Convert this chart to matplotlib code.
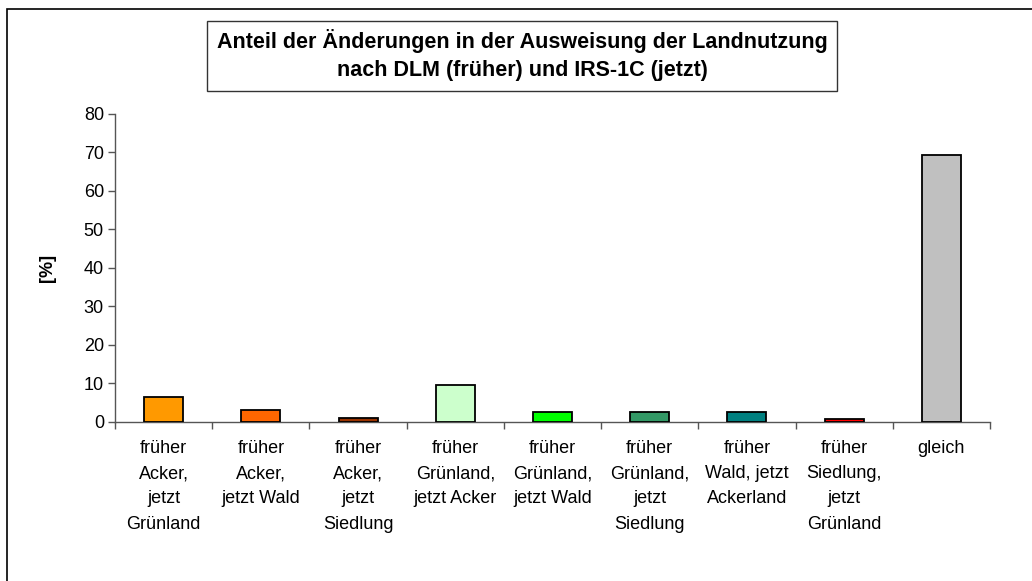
import numpy as np
import matplotlib
matplotlib.use("Agg")
import matplotlib.pyplot as plt
from matplotlib.patches import Rectangle

plt.rcParams['font.family'] = ['Liberation Sans', 'DejaVu Sans']

# Daten
categories = ["früher\nAcker,\njetzt\nGrünland", "früher\nAcker,\njetzt Wald",
              "früher\nAcker,\njetzt\nSiedlung", "früher\nGrünland,\njetzt Acker",
              "früher\nGrünland,\njetzt Wald", "früher\nGrünland,\njetzt\nSiedlung",
              "früher\nWald, jetzt\nAckerland", "früher\nSiedlung,\njetzt\nGrünland",
              "gleich"]
values = [6.5, 3.0, 0.9, 9.5, 2.6, 2.6, 2.6, 0.8, 69.3]
colors = ["#FF9900", "#FF6600", "#993300", "#CCFFCC", "#00FF00",
          "#339966", "#008080", "#FF0000", "#C0C0C0"]
yticks = [0, 10, 20, 30, 40, 50, 60, 70, 80]

W, H = 1032, 581
fig = plt.figure(figsize=(W / 100, H / 100), dpi=100)

# aeusserer Rahmen (nur links und oben sichtbar)
fig.patches.append(Rectangle((7 / W, -0.1), 1.2, 1 - 9 / H + 0.1, transform=fig.transFigure,
                             fill=False, edgecolor="#000000", linewidth=1.2))

ax = fig.add_axes([115 / W, 1 - 421.7 / H, 875 / W, (421.7 - 114) / H])
x = np.arange(len(categories))
ax.bar(x, values, width=0.4, color=colors, edgecolor="black", linewidth=1.3, zorder=3)

ax.set_xlim(-0.5, len(categories) - 0.5)
ax.set_ylim(0, 80)
ax.set_yticks(yticks)
ax.set_xticks(x)
ax.set_xticklabels(categories, fontsize=13, linespacing=1.64)
ax.set_xticks(np.arange(-0.5, len(categories)), minor=True)
ax.tick_params(axis="x", which="major", length=0, pad=13)
ax.tick_params(axis="x", which="minor", length=5, color="#555555", width=1)
ax.tick_params(axis="y", length=5, color="#555555", width=1, labelsize=13, pad=3)

for s in ["top", "right"]:
    ax.spines[s].set_visible(False)
for s in ["left", "bottom"]:
    ax.spines[s].set_color("#555555")
    ax.spines[s].set_linewidth(1)

ax.set_ylabel("[%]", fontsize=13, fontweight="bold")
ax.yaxis.set_label_coords(-0.0674, 0.5)

# Titel mit Kasten
fig.patches.append(Rectangle((207 / W, 1 - 91 / H), 630 / W, 70 / H, transform=fig.transFigure,
                             fill=False, edgecolor="#333333", linewidth=1))
fig.text(522 / W, 1 - 55 / H, "Anteil der Änderungen in der Ausweisung der Landnutzung\n"
         "nach DLM (früher) und IRS-1C (jetzt)", ha="center", va="center",
         fontsize=15.5, fontweight="bold", linespacing=1.4)

fig.savefig("out.png", dpi=100)
